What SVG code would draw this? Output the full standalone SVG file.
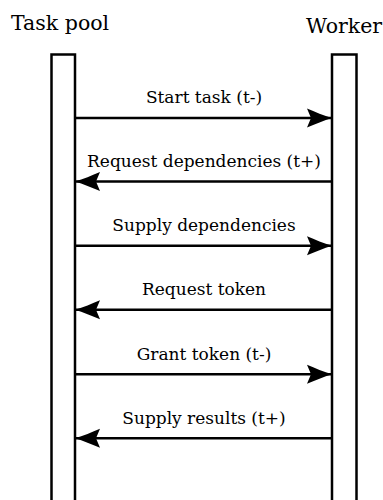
<svg xmlns="http://www.w3.org/2000/svg" width="383" height="500" viewBox="0 0 383 500">
  <style>
    .bg { fill: #ffffff; }
    .lifeline { fill: none; stroke: #000; stroke-width: 2.5; }
    .msg { stroke: #000; stroke-width: 2.5; fill: none; marker-end: url(#head); }
    .title { font-family: "DejaVu Serif", "Liberation Serif", serif; font-size: 20.5px; fill: #000; }
    .label { font-family: "DejaVu Serif", "Liberation Serif", serif; font-size: 17px; fill: #000; text-anchor: middle; }
  </style>
  <defs>
    <marker id="head" markerUnits="userSpaceOnUse" viewBox="-26 -10 27 20" markerWidth="27" markerHeight="20" refX="0" refY="0" orient="auto">
      <path d="M0,0 C-8,-2.5 -17,-6 -25,-9.5 L-21,0 L-25,9.5 C-17,6 -8,2.5 0,0 Z" fill="#000"/>
    </marker>
  </defs>
  <rect class="bg" x="0" y="0" width="383" height="500"/>

  <g id="task-pool">
    <text class="title" x="11" y="29.5">Task pool</text>
    <rect class="lifeline" x="51.5" y="54.5" width="23.5" height="460"/>
  </g>

  <g id="worker">
    <text class="title" x="306" y="32.5">Worker</text>
    <rect class="lifeline" x="332" y="54.5" width="24.5" height="460"/>
  </g>

  <g id="connectors">
    <g id="m1">
      <line class="msg" x1="75" y1="118" x2="332" y2="118"/>
      <text class="label" x="204" y="103">Start task (t-)</text>
    </g>
    <g id="m2">
      <line class="msg" x1="332" y1="181.5" x2="75" y2="181.5"/>
      <text class="label" x="204" y="167">Request dependencies (t+)</text>
    </g>
    <g id="m3">
      <line class="msg" x1="75" y1="245.7" x2="332" y2="245.7"/>
      <text class="label" x="204" y="231">Supply dependencies</text>
    </g>
    <g id="m4">
      <line class="msg" x1="332" y1="309.8" x2="75" y2="309.8"/>
      <text class="label" x="204" y="295">Request token</text>
    </g>
    <g id="m5">
      <line class="msg" x1="75" y1="374.3" x2="332" y2="374.3"/>
      <text class="label" x="204" y="359.5">Grant token (t-)</text>
    </g>
    <g id="m6">
      <line class="msg" x1="332" y1="438.3" x2="75" y2="438.3"/>
      <text class="label" x="204" y="423.5">Supply results (t+)</text>
    </g>
  </g>
</svg>
